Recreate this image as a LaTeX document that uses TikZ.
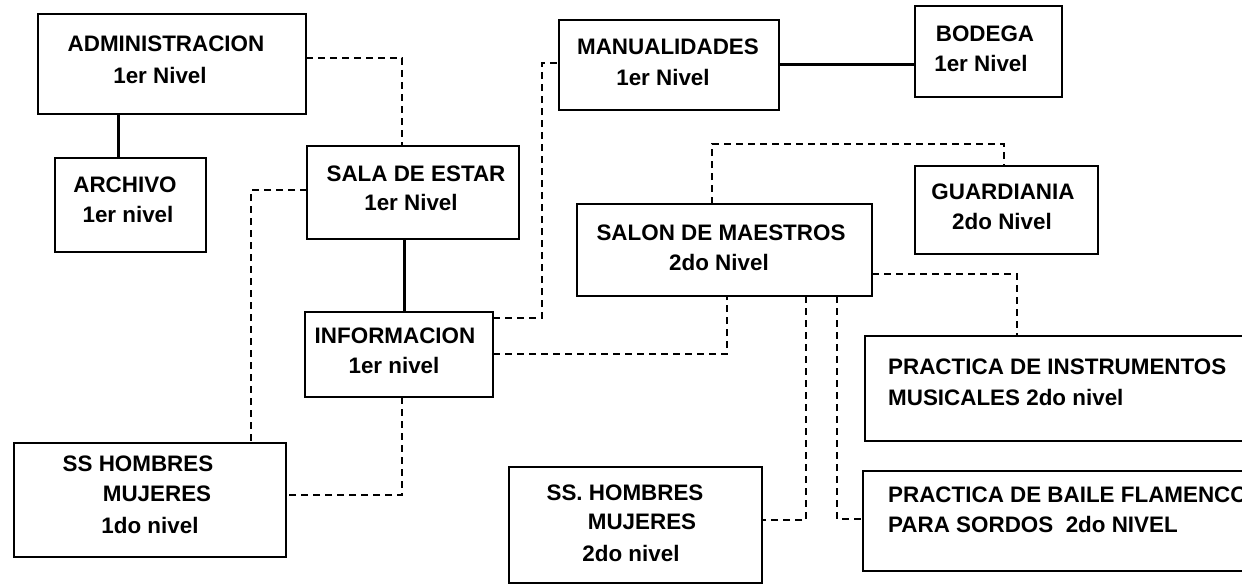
\documentclass[tikz,border=0pt]{standalone}
\usepackage{fontspec}
\setmainfont{Liberation Sans}
\begin{document}
\begin{tikzpicture}[x=1pt,y=-1pt,
  box/.style={draw=black,line width=1.6pt,rectangle,inner sep=0pt,outer sep=0pt,anchor=north west,fill=white},
  lbl/.style={font=\fontsize{22.4}{28}\selectfont\bfseries,inner sep=0pt,anchor=base},
  lblw/.style={lbl,anchor=base west},
  solidc/.style={draw=black,line width=3pt},
  dashc/.style={draw=black,line width=1.5pt,dash pattern=on 7pt off 5pt}]
\path[use as bounding box] (0,0) rectangle (1242,586);
\clip (0,0) rectangle (1242,586);
\fill[white] (0,0) rectangle (1242,586);

% boxes
\node[box,minimum width=268pt,minimum height=100pt] (adm) at (38,14) {};
\node[box,minimum width=151pt,minimum height=94pt] (arc) at (55,158) {};
\node[box,minimum width=212pt,minimum height=93pt] (sala) at (307,146) {};
\node[box,minimum width=188pt,minimum height=85pt] (info) at (305,312) {};
\node[box,minimum width=272pt,minimum height=114pt] (ssa) at (14,443) {};
\node[box,minimum width=220pt,minimum height=90pt] (man) at (559,20) {};
\node[box,minimum width=147pt,minimum height=91pt] (bod) at (915,6) {};
\node[box,minimum width=295pt,minimum height=92pt] (sal) at (577,204) {};
\node[box,minimum width=183pt,minimum height=88pt] (gua) at (915,166) {};
\node[box,minimum width=253pt,minimum height=116pt] (ssb) at (509,467) {};
\node[box,minimum width=400pt,minimum height=105pt] (pin) at (865,336) {};
\node[box,minimum width=400pt,minimum height=100pt] (pbf) at (863,471) {};

% labels
\node[lbl] (t1a) at (166,52) {ADMINISTRACION};
\node[lbl] (t1b) at (160,83) {1er Nivel};
\node[lbl] (t2a) at (125,192) {ARCHIVO};
\node[lbl] (t2b) at (128,222) {1er nivel};
\node[lbl] (t3a) at (416,181) {SALA DE ESTAR};
\node[lbl] (t3b) at (411,210) {1er Nivel};
\node[lbl] (t4a) at (395,343) {INFORMACION};
\node[lbl] (t4b) at (394,373) {1er nivel};
\node[lbl] (t5a) at (138,471) {SS HOMBRES};
\node[lbl] (t5b) at (157,501) {MUJERES};
\node[lbl] (t5c) at (150,533) {1do nivel};
\node[lbl] (t6a) at (668,55) {MANUALIDADES};
\node[lbl] (t6b) at (663,85) {1er Nivel};
\node[lbl] (t7a) at (985,42) {BODEGA};
\node[lbl] (t7b) at (981,72) {1er Nivel};
\node[lbl] (t8a) at (721,240) {SALON DE MAESTROS};
\node[lbl] (t8b) at (719,270) {2do Nivel};
\node[lbl] (t9a) at (1003,199) {GUARDIANIA};
\node[lbl] (t9b) at (1002,229) {2do Nivel};
\node[lbl] (t10a) at (625,500) {SS. HOMBRES};
\node[lbl] (t10b) at (642,529) {MUJERES};
\node[lbl] (t10c) at (631,561) {2do nivel};
\node[lblw] (t11a) at (888,374) {PRACTICA DE INSTRUMENTOS};
\node[lblw] (t11b) at (888,405) {MUSICALES 2do nivel};
\node[lblw] (t12a) at (888,502) {PRACTICA DE BAILE FLAMENCO};
\node[lblw] (t12b) at (888,532) {PARA SORDOS\ \ 2do NIVEL};

% solid connectors
\draw[solidc] (adm.south -| 118,0) -- (arc.north -| 118,0);
\draw[solidc] (sala.south -| 404,0) -- (info.north -| 404,0);
\draw[solidc] (man.east |- 0,65) -- (bod.west |- 0,65);

% dashed connectors
\draw[dashc] (adm.east |- 0,58) -- (402,58) -- (sala.north -| 402,0);
\draw[dashc] (sala.west |- 0,190) -- (251,190) -- (ssa.north -| 251,0);
\draw[dashc] (info.east |- 0,318) -- (542,318) -- (542,63) -- (man.west |- 0,63);
\draw[dashc] (info.east |- 0,354) -- (727,354) -- (sal.south -| 727,0);
\draw[dashc] (info.south -| 402,0) -- (402,495) -- (ssa.east |- 0,495);
\draw[dashc] (sal.north -| 712,0) -- (712,144) -- (1004,144) -- (gua.north -| 1004,0);
\draw[dashc] (sal.east |- 0,274) -- (1017,274) -- (pin.north -| 1017,0);
\draw[dashc] (sal.south -| 806,0) -- (806,520) -- (ssb.east |- 0,520);
\draw[dashc] (sal.south -| 837,0) -- (837,519) -- (pbf.west |- 0,519);
\end{tikzpicture}
\end{document}
